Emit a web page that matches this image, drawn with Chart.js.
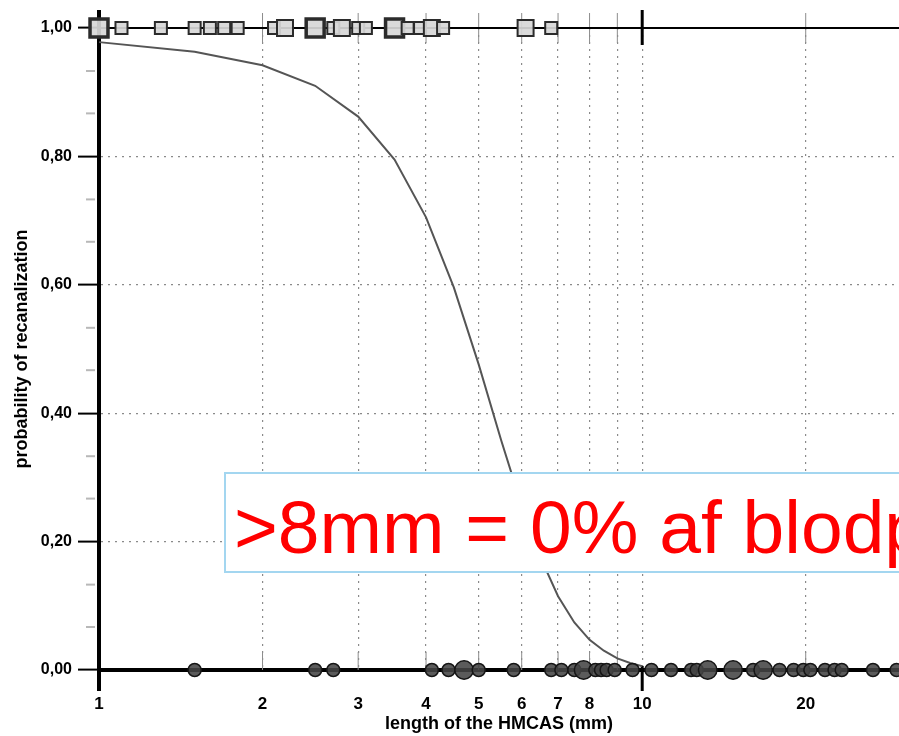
<!DOCTYPE html>
<html>
<head>
<meta charset="utf-8">
<script src="https://cdn.jsdelivr.net/npm/chart.js@4/dist/chart.umd.min.js"></script>
<style>
  html, body { margin: 0; padding: 0; background: #fff; overflow: hidden; }
  #wrap { position: relative; width: 899px; height: 736px; overflow: hidden; }
  #note {
    position: absolute; left: 224px; top: 472px; width: 720px; height: 101px;
    box-sizing: border-box; border: 2px solid #a3d6f0; background: #fff;
  }
  #note span {
    position: absolute; left: 8px; top: 16px; white-space: nowrap;
    font-family: "Liberation Sans", Arial, sans-serif; font-size: 75px; line-height: 75px;
    color: #ff0000;
  }
</style>
</head>
<body>
<div id="wrap">
  <canvas id="c" width="899" height="736"></canvas>
  <div id="note"><span>&gt;8mm = 0% af blodpropper</span></div>
</div>
<script>
// ---- data ----
const xTickValues = [1, 2, 3, 4, 5, 6, 7, 8, 9, 10, 20];
const xTickLabels = ['1', '2', '3', '4', '5', '6', '7', '8', '', '10', '20'];
const yTickValues = [0, 0.2, 0.4, 0.6, 0.8, 1.0];
const yMinorTicks = [0.067, 0.133, 0.267, 0.333, 0.467, 0.533, 0.667, 0.733, 0.867, 0.933];

// fitted probability curve
const curveX = [1, 1.5, 2, 2.5, 3, 3.5, 4, 4.5, 5, 5.5, 6, 6.5, 7, 7.5, 8, 8.5, 9, 9.5, 10];
const curveY = [0.978, 0.963, 0.942, 0.910, 0.862, 0.795, 0.705, 0.596, 0.476, 0.358, 0.256, 0.175, 0.115, 0.074, 0.047, 0.030, 0.018, 0.011, 0.006];

// recanalized patients (y = 1), square markers; count = overlapping patients
const recanX = [1, 1.1, 1.3, 1.5, 1.6, 1.7, 1.8, 2.1, 2.2, 2.5, 2.7, 2.8, 3.0, 3.1, 3.5, 3.7, 3.9, 4.1, 4.3, 6.1, 6.8];
const recanCount = [3, 1, 1, 1, 1, 1, 1, 1, 2, 3, 1, 2, 1, 1, 3, 1, 1, 2, 1, 2, 1];

// not recanalized patients (y = 0), circle markers
const noRecanX = [1.5, 2.5, 2.7, 4.1, 4.4, 4.7, 5.0, 5.8, 6.8, 7.1, 7.5, 7.8, 8.2, 8.4, 8.6, 8.9, 9.6, 10.4, 11.3, 12.3, 12.6, 13.2, 14.7, 16.0, 16.7, 17.9, 19.0, 19.8, 20.4, 21.7, 22.6, 23.3, 26.6, 29.4];
const noRecanCount = [1, 1, 1, 1, 1, 2, 1, 1, 1, 1, 1, 2, 1, 1, 1, 1, 1, 1, 1, 1, 1, 2, 2, 1, 2, 1, 1, 1, 1, 1, 1, 1, 1, 1];

const FONT = '"Liberation Sans", Arial, Helvetica, sans-serif';

const decor = {
  id: 'decor',
  beforeDatasetsDraw(chart) {
    const { ctx, chartArea: a, scales: { x, y } } = chart;
    const yTop = y.getPixelForValue(1), yBot = y.getPixelForValue(0);
    const seg = (x1, y1, x2, y2) => { ctx.beginPath(); ctx.moveTo(x1, y1); ctx.lineTo(x2, y2); ctx.stroke(); };
    ctx.save();
    // minor y ticks
    ctx.strokeStyle = '#b8b8b8'; ctx.lineWidth = 2;
    yMinorTicks.forEach(v => { const py = y.getPixelForValue(v); seg(a.left - 13, py, a.left - 4, py); });
    // short x ticks crossing the top line and rising from the bottom axis
    xTickValues.forEach(v => {
      if (v === 1) return;
      const px = x.getPixelForValue(v);
      if (v === 10) {
        ctx.strokeStyle = '#000'; ctx.lineWidth = 3;
        seg(px, yTop - 18, px, yTop + 17);
        seg(px, yBot - 4, px, yBot + 21);
      } else {
        ctx.strokeStyle = '#8c8c8c'; ctx.lineWidth = 1;
        seg(px, yTop - 15, px, yTop + 15);
        seg(px, yBot - 18, px, yBot);
      }
    });
    // top line at p = 1
    ctx.strokeStyle = '#000'; ctx.lineWidth = 2;
    seg(a.left, yTop, a.right, yTop);
    // left axis extended above and below
    ctx.lineWidth = 4;
    seg(a.left, yTop - 18, a.left, yBot + 21);
    ctx.restore();
  }
};

const sqRadius = c => (c === 1 ? 8.5 : c === 2 ? 11.3 : 12.7);
const sqBorder = c => (c === 3 ? 3.5 : 2);
const ciRadius = c => (c === 1 ? 6.5 : 9.2);

new Chart(document.getElementById('c'), {
  type: 'scatter',
  data: {
    datasets: [
      {
        label: 'recanalized',
        data: recanX.map(v => ({ x: v, y: 1 })),
        pointStyle: 'rect',
        pointRadius: recanCount.map(sqRadius),
        pointBorderWidth: recanCount.map(sqBorder),
        pointBackgroundColor: 'rgba(215,215,215,0.92)',
        pointBorderColor: '#2b2b2b',
        showLine: false,
        clip: false
      },
      {
        label: 'not recanalized',
        data: noRecanX.map(v => ({ x: v, y: 0 })),
        pointStyle: 'circle',
        pointRadius: noRecanCount.map(ciRadius),
        pointBorderWidth: 1.5,
        pointBackgroundColor: 'rgba(68,68,68,0.88)',
        pointBorderColor: '#161616',
        showLine: false,
        clip: false
      },
      {
        label: 'probability',
        data: curveX.map((v, i) => ({ x: v, y: curveY[i] })),
        showLine: true,
        borderColor: '#555',
        borderWidth: 2,
        pointRadius: 0,
        tension: 0,
        clip: false
      }
    ]
  },
  options: {
    responsive: false,
    animation: false,
    devicePixelRatio: 1,
    layout: { autoPadding: false, padding: { top: 28, right: 0, bottom: 0, left: 0 } },
    plugins: { legend: { display: false }, tooltip: { enabled: false } },
    scales: {
      x: {
        type: 'logarithmic',
        min: 1,
        max: 29.7,
        afterBuildTicks: s => { s.ticks = xTickValues.map(v => ({ value: v })); },
        afterFit: s => { s.height = 66; },
        ticks: {
          autoSkip: false, maxRotation: 0, padding: 24,
          color: '#000',
          font: { family: FONT, size: 17, weight: 'bold' },
          callback: (val, i) => xTickLabels[i]
        },
        grid: {
          drawTicks: false,
          lineWidth: 1.2,
          color: c => (c.tick && c.tick.value === 1 ? 'rgba(0,0,0,0)' : '#8a8a8a')
        },
        border: { display: true, color: '#000', width: 4, dash: [2, 5] },
        title: {
          display: true, text: 'length of the HMCAS (mm)', color: '#000',
          font: { family: FONT, size: 18, weight: 'bold' },
          padding: { top: 0, bottom: 1 }
        }
      },
      y: {
        type: 'linear',
        min: 0,
        max: 1,
        afterBuildTicks: s => { s.ticks = yTickValues.map(v => ({ value: v })); },
        afterFit: s => { s.width = 99; },
        ticks: {
          padding: 6, color: '#000',
          font: { family: FONT, size: 16, weight: 'bold' },
          callback: v => v.toFixed(2).replace('.', ',')
        },
        grid: {
          drawTicks: true, tickLength: 21, tickWidth: 2, tickColor: '#000',
          lineWidth: 1.2,
          color: c => (c.tick && (c.tick.value === 0 || c.tick.value === 1) ? 'rgba(0,0,0,0)' : '#8a8a8a')
        },
        border: { display: true, color: '#000', width: 4, dash: [2, 5] },
        title: {
          display: true, text: 'probability of recanalization', color: '#000',
          font: { family: FONT, size: 18, weight: 'bold' },
          padding: { top: 11, bottom: 0 }
        }
      }
    }
  },
  plugins: [decor]
});
</script>
</body>
</html>
